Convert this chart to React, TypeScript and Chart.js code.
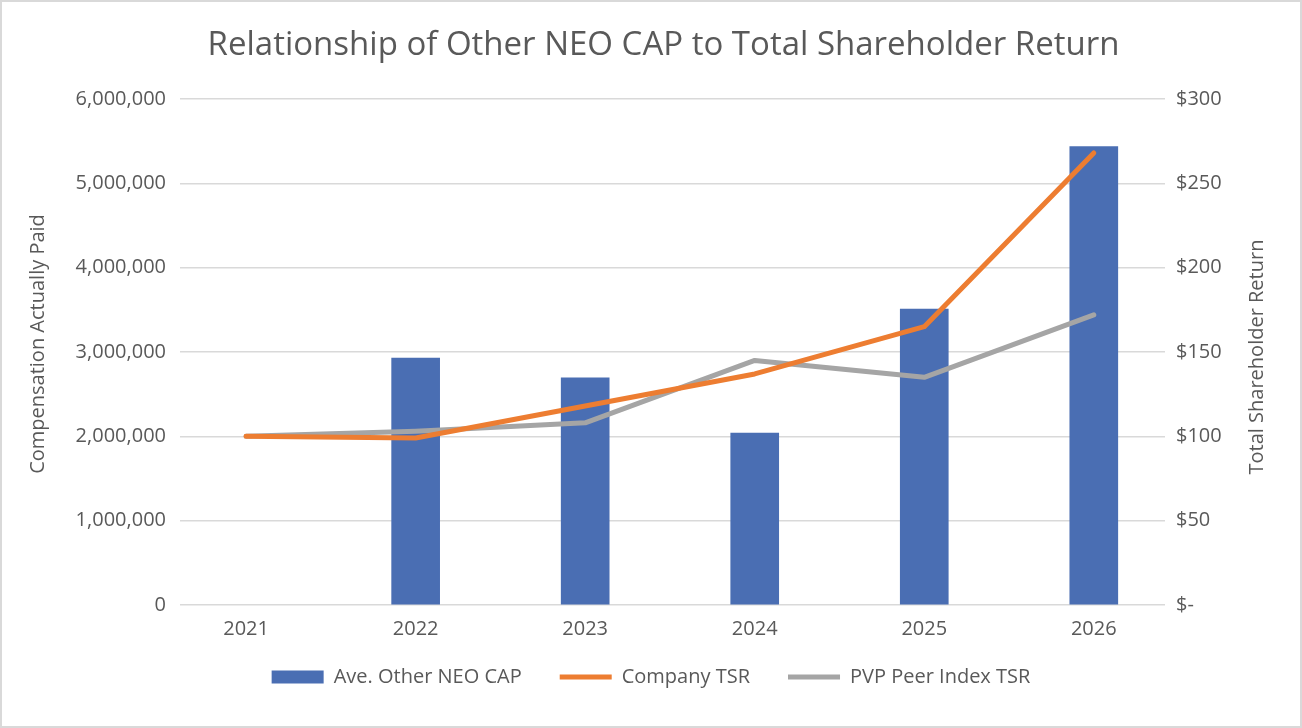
import { useEffect, useRef } from 'react';
import Chart from 'chart.js/auto';

const years = [2021, 2022, 2023, 2024, 2025, 2026];
const capValues = [null, 2927000, 2694000, 2040000, 3510000, 5437000];
const companyTsr = [100, 99, 118, 137, 165, 268];
const peerTsr = [100, 103, 108, 145, 135, 172];
const capTicks = [0, 1000000, 2000000, 3000000, 4000000, 5000000, 6000000];
const tsrTicks = [0, 50, 100, 150, 200, 250, 300];

const seriesNames = ['Ave. Other NEO CAP', 'Company TSR', 'PVP Peer Index TSR'];
const titleText = 'Relationship of Other NEO CAP to Total Shareholder Return';
const leftAxisTitle = 'Compensation Actually Paid';
const rightAxisTitle = 'Total Shareholder Return';

const FONT = '"Open Sans", sans-serif';
const GRAY = '#595959';

// chart title + axis titles (Excel draws both axis titles reading bottom-to-top)
const titlesPlugin = {
  id: 'titles',
  afterDraw(chart: Chart) {
    const { ctx, chartArea } = chart;
    const midY = (chartArea.top + chartArea.bottom) / 2;
    ctx.save();
    ctx.fillStyle = GRAY;
    ctx.textAlign = 'center';
    ctx.textBaseline = 'middle';

    ctx.font = `33px ${FONT}`;
    ctx.fillText(titleText, (chartArea.left + chartArea.right) / 2 - 9, chartArea.top - 53);

    ctx.font = `20px ${FONT}`;
    ctx.save();
    ctx.translate(chartArea.left - 142, midY - 8);
    ctx.rotate(-Math.PI / 2);
    ctx.fillText(leftAxisTitle, 0, 0);
    ctx.restore();

    ctx.save();
    ctx.translate(chartArea.right + 92, midY + 5);
    ctx.rotate(-Math.PI / 2);
    ctx.fillText(rightAxisTitle, 0, 0);
    ctx.restore();

    ctx.restore();
  },
};

// x labels sit below the thin x box; widen its clip area so they are not cut
const xLabelRoom = {
  id: 'xLabelRoom',
  afterLayout(chart: Chart) {
    chart.scales.x.bottom += 24;
  },
};

const App = () => {
  const canvasRef = useRef<HTMLCanvasElement>(null);

  useEffect(() => {
    if (!canvasRef.current) return;

    const chart = new Chart(canvasRef.current, {
      type: 'bar',
      data: {
        datasets: [
          {
            type: 'bar',
            label: seriesNames[0],
            data: years.map((x, i) => ({ x, y: capValues[i] })),
            backgroundColor: '#4A6EB3',
            borderWidth: 0,
            barThickness: 48,
            yAxisID: 'y',
            order: 2,
            pointStyle: 'rect',
          },
          {
            type: 'line',
            label: seriesNames[1],
            data: years.map((x, i) => ({ x, y: companyTsr[i] })),
            borderColor: '#ED7D31',
            backgroundColor: '#ED7D31',
            borderWidth: 5,
            borderCapStyle: 'round',
            borderJoinStyle: 'round',
            pointRadius: 0,
            yAxisID: 'y1',
            order: 0,
            pointStyle: 'line',
          },
          {
            type: 'line',
            label: seriesNames[2],
            data: years.map((x, i) => ({ x, y: peerTsr[i] })),
            borderColor: '#A5A5A5',
            backgroundColor: '#A5A5A5',
            borderWidth: 5,
            borderCapStyle: 'round',
            borderJoinStyle: 'round',
            pointRadius: 0,
            yAxisID: 'y1',
            order: 1,
            pointStyle: 'line',
          },
        ],
      },
      options: {
        responsive: true,
        maintainAspectRatio: false,
        animation: false,
        layout: { padding: { top: 97, bottom: 29 } },
        plugins: {
          tooltip: { enabled: false },
          title: { display: false },
          legend: {
            position: 'bottom',
            labels: {
              color: GRAY,
              font: { family: FONT, size: 20 },
              usePointStyle: true,
              pointStyleWidth: 52,
              boxHeight: 13,
              padding: 38,
              sort: (a, b) => (a.datasetIndex ?? 0) - (b.datasetIndex ?? 0),
            },
          },
        },
        scales: {
          x: {
            type: 'linear',
            offset: false,
            min: years[0] - 0.39,
            max: years[years.length - 1] + 0.42,
            afterBuildTicks: (scale) => {
              scale.ticks = years.map((v) => ({ value: v }));
            },
            afterFit: (scale) => {
              scale.height = 24;
            },
            grid: { display: false, drawTicks: false, offset: false },
            border: { display: false },
            ticks: {
              color: GRAY,
              font: { family: FONT, size: 20 },
              padding: 12,
              maxRotation: 0,
              autoSkip: false,
              callback: (v) => String(v),
            },
          },
          y: {
            position: 'left',
            min: 0,
            max: 6000000,
            afterBuildTicks: (scale) => {
              scale.ticks = capTicks.map((v) => ({ value: v }));
            },
            afterFit: (scale) => {
              scale.width = 178;
            },
            grid: { color: '#D9D9D9', lineWidth: 1.5, drawTicks: false },
            border: { display: false },
            ticks: {
              color: GRAY,
              font: { family: FONT, size: 20 },
              padding: 14,
              callback: (v) => Number(v).toLocaleString('en-US'),
            },
          },
          y1: {
            position: 'right',
            min: 0,
            max: 300,
            afterBuildTicks: (scale) => {
              scale.ticks = tsrTicks.map((v) => ({ value: v }));
            },
            afterFit: (scale) => {
              scale.width = 135;
            },
            grid: { display: false, drawTicks: false },
            border: { display: false },
            ticks: {
              color: GRAY,
              font: { family: FONT, size: 20 },
              padding: 11,
              callback: (v) => (Number(v) === 0 ? '$-' : `$${v}`),
            },
          },
        },
      },
      plugins: [titlesPlugin, xLabelRoom],
    });

    return () => {
      chart.destroy();
    };
  }, []);

  return (
    <div
      style={{
        position: 'absolute',
        left: 0,
        top: 0,
        width: 1302,
        height: 728,
        boxSizing: 'border-box',
        border: '2px solid #D9D9D9',
        background: '#fff',
      }}
    >
      <div style={{ position: 'relative', width: 1298, height: 724 }}>
        <canvas ref={canvasRef}></canvas>
      </div>
    </div>
  );
};

export default App;
